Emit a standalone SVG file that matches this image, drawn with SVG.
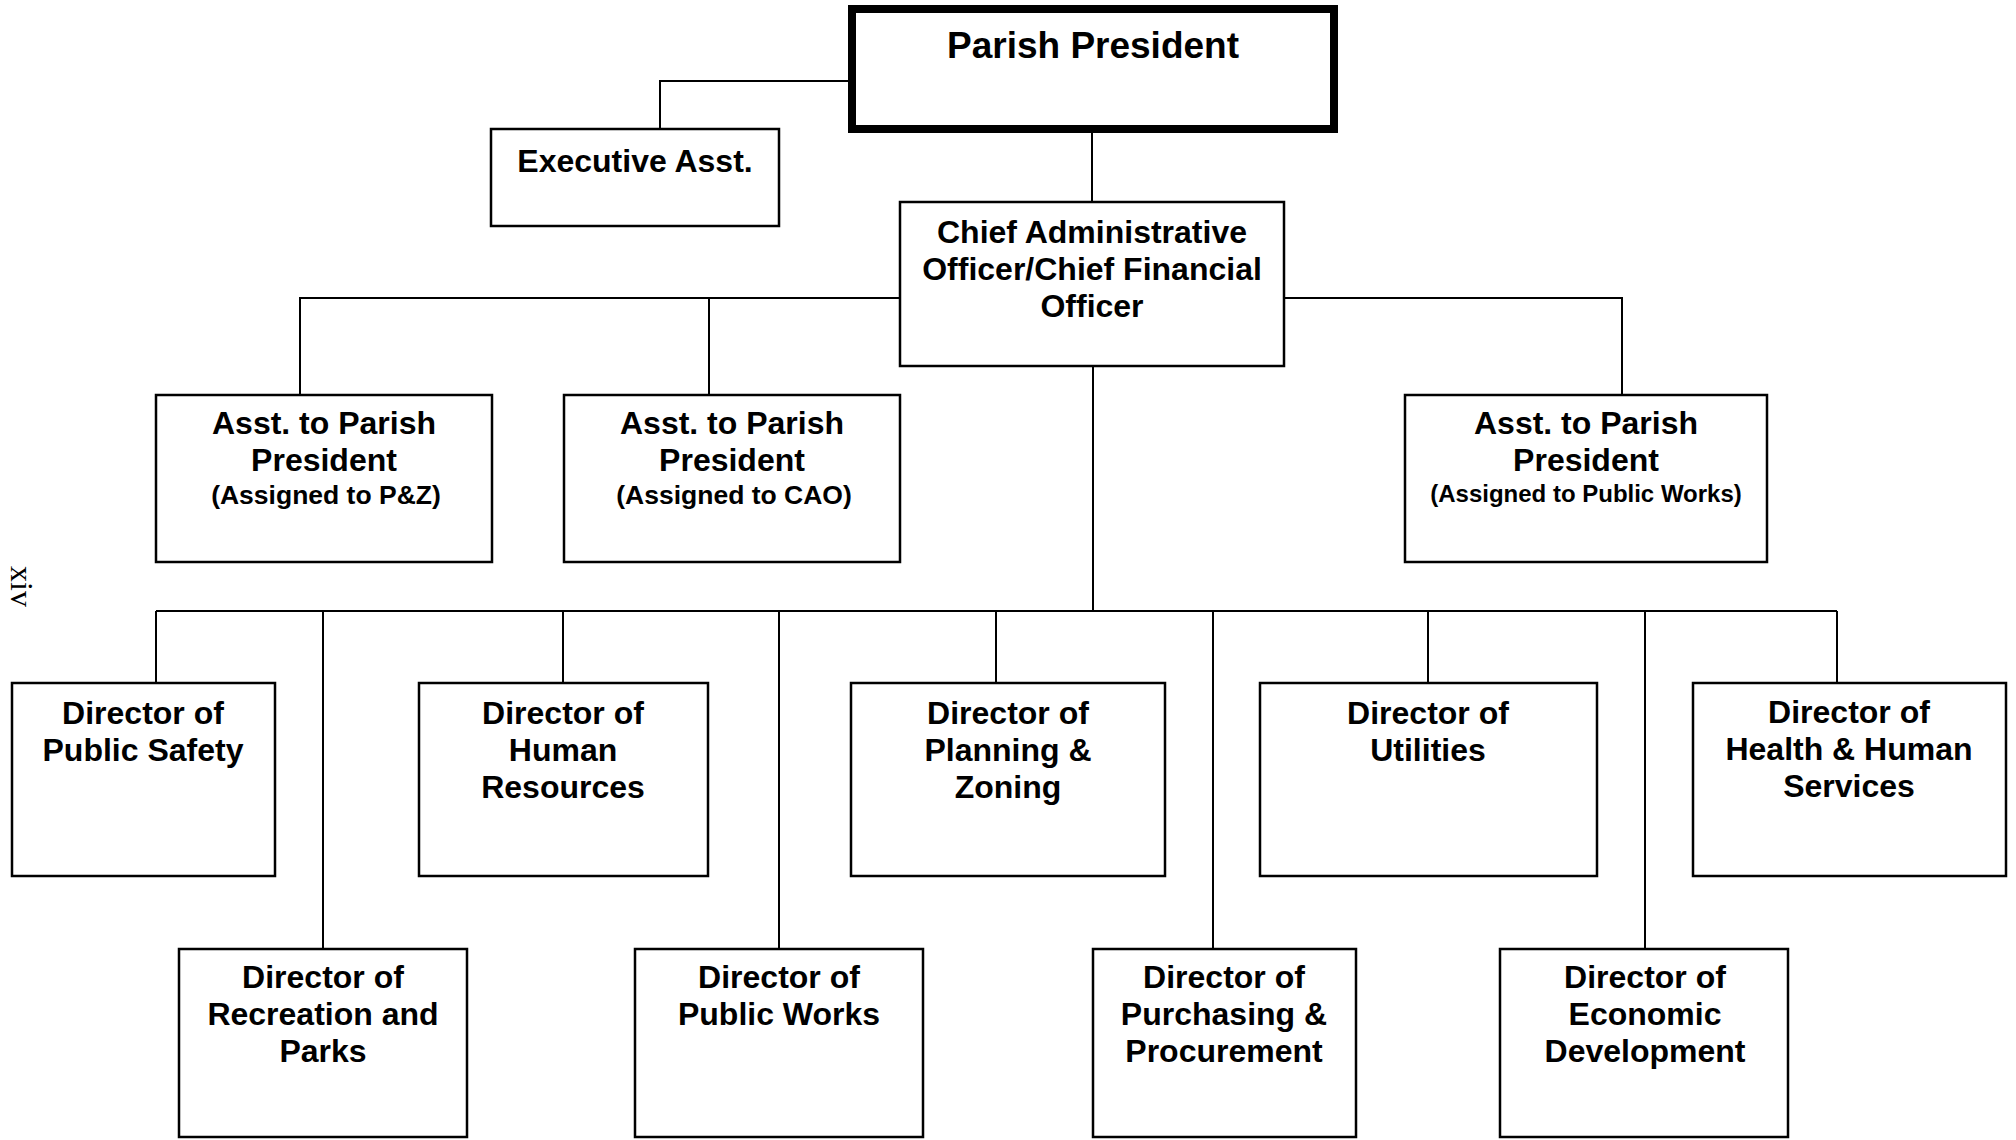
<svg xmlns="http://www.w3.org/2000/svg" width="2016" height="1140" viewBox="0 0 2016 1140">
<style>
.box{fill:#fff;stroke:#000;stroke-width:2.5}
.pp{fill:#fff;stroke:#000;stroke-width:8}
.ln{fill:none;stroke:#000;stroke-width:2}
text{font-family:"Liberation Sans",Arial,sans-serif;font-weight:bold;text-anchor:middle;fill:#000}
.t{font-size:32px}
.s{font-size:26.5px}
.s2{font-size:24px}
.big{font-size:37px}
.pg{font-family:"Liberation Serif","Times New Roman",serif;font-weight:normal;font-size:32px;text-anchor:start}
</style>
<rect width="2016" height="1140" fill="#fff"/>
<g id="connectors">
<path class="ln" d="M852,81 H660 V129"/>
<path class="ln" d="M1092,133 V202"/>
<path class="ln" d="M300,395 V298 H900"/>
<path class="ln" d="M709,298 V395"/>
<path class="ln" d="M1284,298 H1622 V395"/>
<path class="ln" d="M1093,366 V611"/>
<path class="ln" d="M156,611 H1837"/>
<path class="ln" d="M156,611 V683"/>
<path class="ln" d="M323,611 V949"/>
<path class="ln" d="M563,611 V683"/>
<path class="ln" d="M779,611 V949"/>
<path class="ln" d="M996,611 V683"/>
<path class="ln" d="M1213,611 V949"/>
<path class="ln" d="M1428,611 V683"/>
<path class="ln" d="M1645,611 V949"/>
<path class="ln" d="M1837,611 V683"/>
</g>
<g id="parish-president">
<rect class="pp" x="852" y="9" width="482" height="120"/>
<text class="big" x="1093" y="58">Parish President</text>
</g>
<g id="executive-asst">
<rect class="box" x="491" y="129" width="288" height="97"/>
<text class="t" x="635" y="172">Executive Asst.</text>
</g>
<g id="cao">
<rect class="box" x="900" y="202" width="384" height="164"/>
<text class="t" x="1092" y="243">Chief Administrative</text>
<text class="t" x="1092" y="280">Officer/Chief Financial</text>
<text class="t" x="1092" y="317">Officer</text>
</g>
<g id="asst-pz">
<rect class="box" x="156" y="395" width="336" height="167"/>
<text class="t" x="324" y="434">Asst. to Parish</text>
<text class="t" x="324" y="471">President</text>
<text class="s" x="326" y="504">(Assigned to P&amp;Z)</text>
</g>
<g id="asst-cao">
<rect class="box" x="564" y="395" width="336" height="167"/>
<text class="t" x="732" y="434">Asst. to Parish</text>
<text class="t" x="732" y="471">President</text>
<text class="s" x="734" y="504">(Assigned to CAO)</text>
</g>
<g id="asst-pw">
<rect class="box" x="1405" y="395" width="362" height="167"/>
<text class="t" x="1586" y="434">Asst. to Parish</text>
<text class="t" x="1586" y="471">President</text>
<text class="s2" x="1586" y="502">(Assigned to Public Works)</text>
</g>
<g id="dir-public-safety">
<rect class="box" x="12" y="683" width="263" height="193"/>
<text class="t" x="143" y="724">Director of</text>
<text class="t" x="143" y="761">Public Safety</text>
</g>
<g id="dir-human-resources">
<rect class="box" x="419" y="683" width="289" height="193"/>
<text class="t" x="563" y="724">Director of</text>
<text class="t" x="563" y="761">Human</text>
<text class="t" x="563" y="798">Resources</text>
</g>
<g id="dir-planning">
<rect class="box" x="851" y="683" width="314" height="193"/>
<text class="t" x="1008" y="724">Director of</text>
<text class="t" x="1008" y="761">Planning &amp;</text>
<text class="t" x="1008" y="798">Zoning</text>
</g>
<g id="dir-utilities">
<rect class="box" x="1260" y="683" width="337" height="193"/>
<text class="t" x="1428" y="724">Director of</text>
<text class="t" x="1428" y="761">Utilities</text>
</g>
<g id="dir-health">
<rect class="box" x="1693" y="683" width="313" height="193"/>
<text class="t" x="1849" y="723">Director of</text>
<text class="t" x="1849" y="760">Health &amp; Human</text>
<text class="t" x="1849" y="797">Services</text>
</g>
<g id="dir-recreation">
<rect class="box" x="179" y="949" width="288" height="188"/>
<text class="t" x="323" y="988">Director of</text>
<text class="t" x="323" y="1025">Recreation and</text>
<text class="t" x="323" y="1062">Parks</text>
</g>
<g id="dir-public-works">
<rect class="box" x="635" y="949" width="288" height="188"/>
<text class="t" x="779" y="988">Director of</text>
<text class="t" x="779" y="1025">Public Works</text>
</g>
<g id="dir-purchasing">
<rect class="box" x="1093" y="949" width="263" height="188"/>
<text class="t" x="1224" y="988">Director of</text>
<text class="t" x="1224" y="1025">Purchasing &amp;</text>
<text class="t" x="1224" y="1062">Procurement</text>
</g>
<g id="dir-economic">
<rect class="box" x="1500" y="949" width="288" height="188"/>
<text class="t" x="1645" y="988">Director of</text>
<text class="t" x="1645" y="1025">Economic</text>
<text class="t" x="1645" y="1062">Development</text>
</g>
<text class="pg" transform="translate(11,566) rotate(90)">xiv</text>
</svg>
